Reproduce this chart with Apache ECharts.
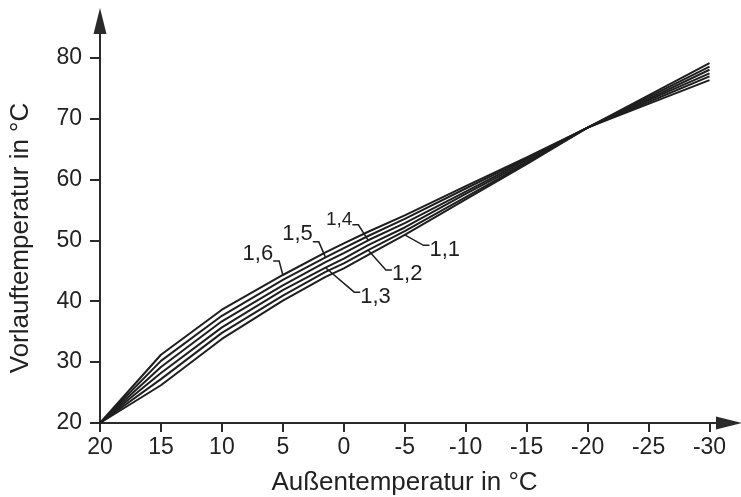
<!DOCTYPE html>
<html>
<head>
<meta charset="utf-8">
<script src="https://cdn.jsdelivr.net/npm/echarts@6/dist/echarts.min.js"></script>
<style>
html,body{margin:0;padding:0;background:#fff;}
#chart{width:741px;height:497px;}
</style>
</head>
<body>
<div id="chart"></div>
<script>
// Außentemperatur (x) sample points
const temps = [20, 15, 10, 5, 1.5, 0, -2, -5, -10, -15, -20, -25, -30];
// Vorlauftemperatur per heating curve slope
const curve16 = [20, 31.2, 38.6, 44.3, 48.0, 49.5, 51.4, 54.1, 58.9, 63.6, 68.5, 72.4, 76.3];
const curve15 = [20, 30.2, 37.6, 43.5, 47.2, 48.7, 50.7, 53.5, 58.5, 63.4, 68.5, 72.7, 76.9];
const curve14 = [20, 29.2, 36.7, 42.6, 46.4, 47.9, 50.0, 52.8, 58.0, 63.2, 68.5, 73.0, 77.4];
const curve13 = [20, 28.2, 35.7, 41.8, 45.5, 47.0, 49.2, 52.1, 57.6, 62.9, 68.5, 73.2, 78.0];
const curve12 = [20, 27.2, 34.8, 40.9, 44.8, 46.2, 48.4, 51.5, 57.1, 62.7, 68.5, 73.5, 78.5];
const curve11 = [20, 26.2, 33.8, 40.1, 44.0, 45.4, 47.6, 50.9, 56.7, 62.5, 68.5, 73.8, 79.1];
const curveNames = ['1,6', '1,5', '1,4', '1,3', '1,2', '1,1'];
const curveLabelTemp = [5, 1.5, -2, 1.5, -2, -5];
const xTicks = [20, 15, 10, 5, 0, -5, -10, -15, -20, -25, -30];
const yTicks = [20, 30, 40, 50, 60, 70, 80];

const curves = [curve16, curve15, curve14, curve13, curve12, curve11];
// label placement styles: offset of the label box from its anchor, font size,
// spacer height below (left labels) or above (right labels) the text
const labelStyle = [
  {dx: -25, dy: -9,  size: 22, spacer: 24, below: true},
  {dx: -28, dy: -10, size: 22, spacer: 26, below: true},
  {dx: -29, dy: -12, size: 19, spacer: 18, below: true},
  {dx: 50,  dy: 22,  size: 22, spacer: 14, below: false},
  {dx: 39,  dy: 18,  size: 22, spacer: 12, below: false},
  {dx: 40,  dy: 8,   size: 22, spacer: 14, below: false}
];

const FONT = 'Liberation Sans, Arial, sans-serif';
const INK = '#1e1e1e';

const series = curves.map(function (vals, si) {
  const st = labelStyle[si];
  const txt = '{t|' + curveNames[si] + '}';
  const fmt = st.below ? (txt + '\n{e| }') : ('{e| }\n' + txt);
  return {
    type: 'line',
    name: curveNames[si],
    symbol: 'none',
    showSymbol: true,
    silent: true,
    emphasis: {disabled: true},
    lineStyle: {color: INK, width: 2},
    data: vals.map(function (v, i) {
      const item = {value: [temps[i], v]};
      if (temps[i] === curveLabelTemp[si]) {
        item.symbol = 'circle';
        item.symbolSize = 1;
        item.itemStyle = {color: INK};
        item.label = {
          show: true,
          position: 'inside',
          formatter: fmt,
          rich: {
            t: {fontFamily: FONT, fontSize: st.size, lineHeight: st.size, color: INK},
            e: {fontFamily: FONT, fontSize: 4, lineHeight: st.spacer, color: 'rgba(0,0,0,0)'}
          }
        };
        item.labelLine = {
          show: true,
          length2: 6,
          lineStyle: {color: INK, width: 1.5}
        };
      }
      return item;
    }),
    labelLayout: {dx: st.dx, dy: st.dy},
    labelLine: {show: true, length2: 6, lineStyle: {color: INK, width: 1.5}}
  };
});

const chart = echarts.init(document.getElementById('chart'), null, {renderer: 'canvas'});
chart.setOption({
  animation: false,
  backgroundColor: '#ffffff',
  grid: {left: 100, right: 12, top: 21, bottom: 74, outerBoundsMode: 'none', containLabel: false},
  xAxis: {
    type: 'value',
    inverse: true,
    min: -31.6,
    max: 20,
    name: 'Außentemperatur in °C',
    nameLocation: 'middle',
    nameGap: 47,
    nameTextStyle: {fontFamily: FONT, fontSize: 26, color: '#222', padding: [0, 20, 0, 0]},
    axisLine: {
      show: true, onZero: false,
      symbol: ['none', 'triangle'], symbolSize: [13, 26],
      lineStyle: {color: '#2a2a2a', width: 2}
    },
    axisTick: {show: true, inside: false, length: 9, customValues: xTicks, lineStyle: {color: '#2a2a2a', width: 2}},
    axisLabel: {show: true, margin: 13, customValues: xTicks, fontFamily: FONT, fontSize: 23, color: '#222'},
    splitLine: {show: false}
  },
  yAxis: {
    type: 'value',
    min: 20,
    max: 86,
    name: 'Vorlauftemperatur in °C',
    nameLocation: 'middle',
    nameGap: 66,
    nameRotate: 90,
    nameTextStyle: {fontFamily: FONT, fontSize: 26, color: '#222', padding: [0, 32, 0, 0]},
    axisLine: {
      show: true, onZero: false,
      symbol: ['none', 'triangle'], symbolSize: [13, 26],
      lineStyle: {color: '#2a2a2a', width: 2}
    },
    axisTick: {show: true, inside: false, length: 10, customValues: yTicks, lineStyle: {color: '#2a2a2a', width: 2}},
    axisLabel: {show: true, margin: 18, customValues: yTicks, fontFamily: FONT, fontSize: 23, color: '#222'},
    splitLine: {show: false}
  },
  series: series
});
</script>
</body>
</html>
